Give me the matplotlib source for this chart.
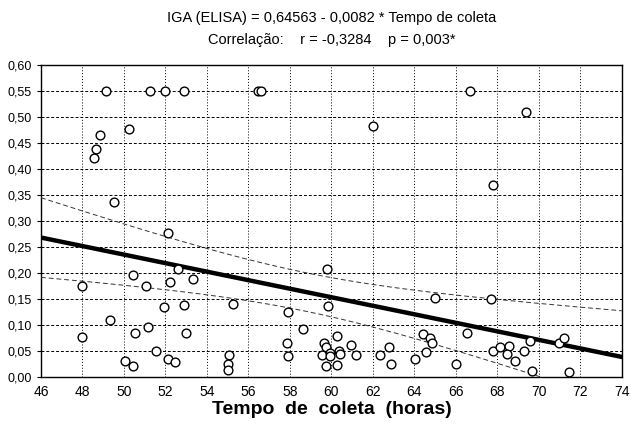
import numpy as np
import matplotlib
matplotlib.use("Agg")
import matplotlib.pyplot as plt
from matplotlib.ticker import FuncFormatter

plt.rcParams['font.family'] = ['Liberation Sans', 'DejaVu Sans']

# tempo de coleta (horas)
tempo = [49.12, 51.28, 52.0, 52.9, 56.44, 56.63, 66.68,
         48.85, 50.25, 48.64, 48.58, 49.51,
         62.0, 69.4, 67.77,
         52.14, 52.61, 50.42, 53.33, 52.22, 48.0, 51.08,
         55.26, 52.9, 51.92, 49.35, 48.0, 51.16, 50.55, 52.98,
         51.55, 50.04, 50.42, 52.14, 52.46, 55.05, 55.02, 55.0,
         59.8, 59.86, 57.91, 58.65, 57.86, 57.9,
         59.63, 59.76, 60.27, 59.55, 59.92, 59.95, 59.76, 60.27, 60.35, 60.42,
         60.95, 61.2, 62.34, 62.8, 62.85, 64.03,
         64.42, 64.74, 64.87, 64.58, 64.99, 67.71, 66.55, 66.0,
         67.81, 68.13, 68.58, 68.46, 68.87, 69.28, 69.57, 69.67, 70.99, 71.2, 71.44]
# IGA (ELISA)
iga = [0.55, 0.55, 0.55, 0.55, 0.55, 0.55, 0.55,
       0.466, 0.477, 0.438, 0.422, 0.336,
       0.483, 0.509, 0.370,
       0.277, 0.207, 0.196, 0.189, 0.182, 0.175, 0.176,
       0.141, 0.139, 0.134, 0.110, 0.078, 0.096, 0.085, 0.085,
       0.050, 0.031, 0.021, 0.035, 0.030, 0.042, 0.026, 0.014,
       0.208, 0.137, 0.126, 0.093, 0.066, 0.040,
       0.066, 0.058, 0.080, 0.043, 0.047, 0.041, 0.021, 0.024, 0.050, 0.045,
       0.062, 0.043, 0.042, 0.058, 0.026, 0.035,
       0.083, 0.076, 0.065, 0.048, 0.153, 0.150, 0.085, 0.026,
       0.051, 0.058, 0.059, 0.044, 0.031, 0.050, 0.070, 0.012, 0.066, 0.075, 0.009]

intercept = 0.64563
slope = -0.0082
x_ticks = list(range(46, 75, 2))
y_ticks = [i * 0.05 for i in range(13)]

x = np.array(tempo)
y = np.array(iga)
n = len(x)

fig = plt.figure(figsize=(6.3, 4.37), dpi=100)
ax = fig.add_axes([0.065, 0.137, 0.922, 0.714])

# regression line and 95% confidence band of the mean
xs = np.linspace(46, 74, 200)
fit = intercept + slope * xs
resid = y - (intercept + slope * x)
s = np.sqrt(np.sum(resid ** 2) / (n - 2))
sxx = np.sum((x - x.mean()) ** 2)
hw = 1.99 * s * np.sqrt(1 / n + (xs - x.mean()) ** 2 / sxx)

ax.plot(xs, fit, color='black', lw=3.2, zorder=3)
ax.plot(xs, fit + hw, color='#333333', lw=0.7, ls=(0, (5, 3)), zorder=3)
ax.plot(xs, fit - hw, color='#333333', lw=0.7, ls=(0, (5, 3)), zorder=3)

ax.plot(x, y, 'o', ms=6.3, mfc='white', mec='black', mew=1.0, zorder=4)

ax.set_xlim(46, 74)
ax.set_ylim(0, 0.6)
ax.set_xticks(x_ticks)
ax.set_yticks(y_ticks)
ax.yaxis.set_major_formatter(FuncFormatter(lambda v, p: f"{v:.2f}".replace('.', ',')))
ax.tick_params(axis='x', length=0, labelsize=10, pad=6)
ax.tick_params(axis='y', length=3, labelsize=9)
ax.grid(axis='y', color='black', ls=(0, (3, 2)), lw=0.7)
ax.grid(axis='x', color='black', ls=(0, (1, 2)), lw=0.7)
ax.set_axisbelow(True)
for sp in ax.spines.values():
    sp.set_linewidth(1.0)

ax.set_xlabel("Tempo  de  coleta  (horas)", fontsize=14, fontweight='bold', labelpad=1)

cx = 0.065 + 0.922 / 2
fig.text(cx, 1 - 18 / 437, "IGA (ELISA) = 0,64563 - 0,0082 * Tempo de coleta",
         ha='center', va='center', fontsize=10.5)
fig.text(cx, 1 - 40 / 437, "Correlação:    r = -0,3284    p = 0,003*",
         ha='center', va='center', fontsize=10.5)

fig.savefig("out.png", dpi=100)
